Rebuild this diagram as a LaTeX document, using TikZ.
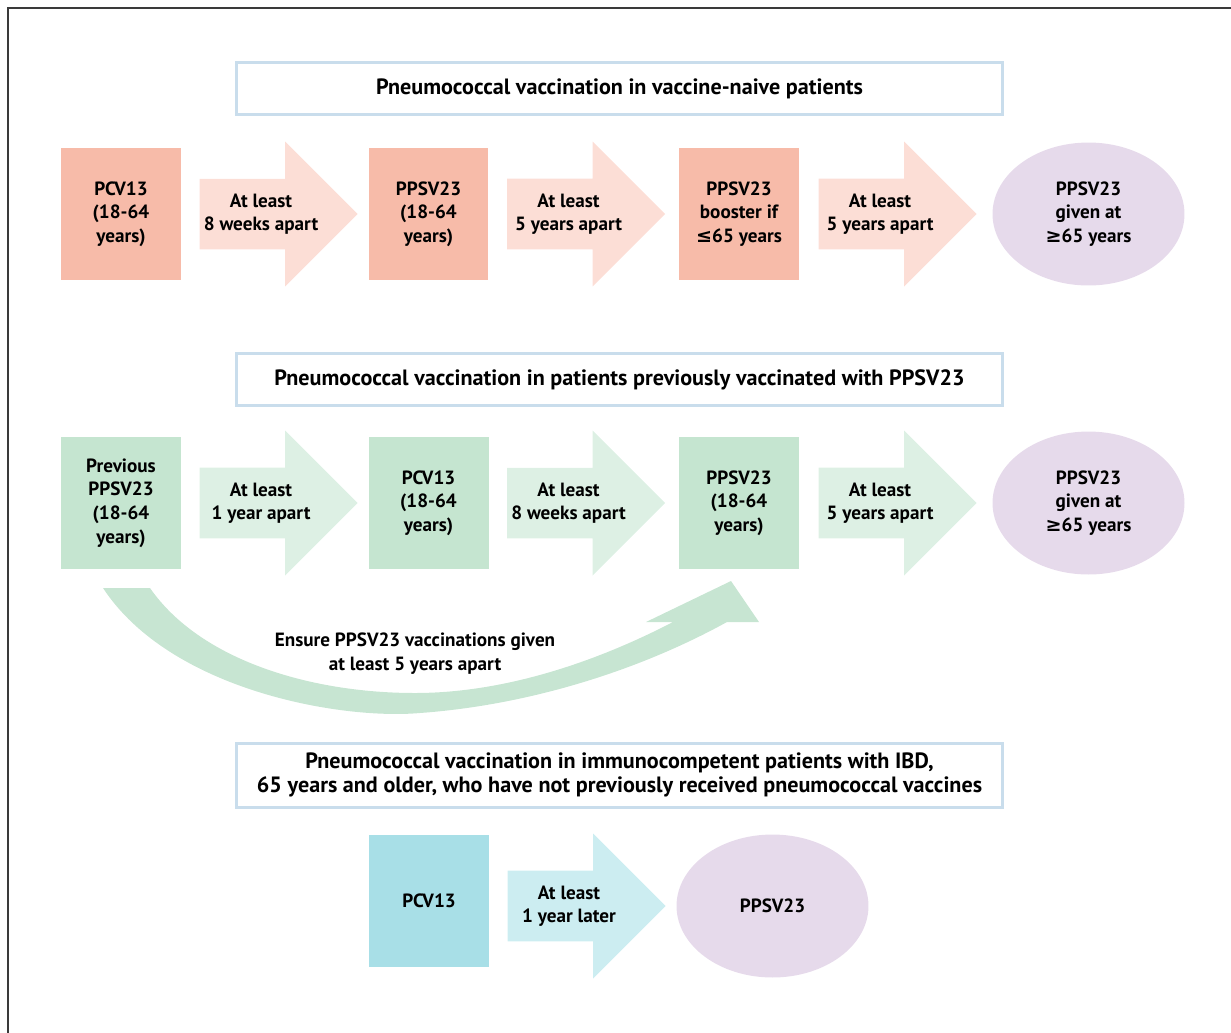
\documentclass[tikz,border=0pt]{standalone}
\usepackage{fontspec}
\setmainfont{PT Sans}
\newfontfamily\relfont{DejaVu Sans}
\usetikzlibrary{shapes.arrows, shapes.geometric, positioning}

\definecolor{salmonbox}{HTML}{F7BBA9}
\definecolor{salmongap}{HTML}{FCDED6}
\definecolor{greenbox}{HTML}{C5E5D0}
\definecolor{greengap}{HTML}{DDF0E4}
\definecolor{cyanbox}{HTML}{A8DFE7}
\definecolor{cyangap}{HTML}{CCEDF1}
\definecolor{lilac}{HTML}{E6DAEB}
\definecolor{titleline}{HTML}{C9DDEC}
\definecolor{bandgreen}{HTML}{C7E5D2}
\definecolor{frameline}{HTML}{3A3A3A}

\begin{document}
\begin{tikzpicture}[
		x=0.02cm, y=-0.02cm,
		every node/.style = {font=\bfseries\fontsize{10.9}{13.4}\selectfont, align=center},
		heading/.style = {rectangle, draw=titleline, line width=1.7pt, minimum width=15.32cm, minimum height=1.04cm, font=\bfseries\fontsize{12.6}{13.6}\selectfont},
		dose/.style = {rectangle, minimum width=2.4cm, minimum height=2.64cm, inner sep=0pt},
		gap/.style = {single arrow, single arrow head extend=0.74cm, minimum height=3.16cm, minimum width=2.9cm, inner xsep=0pt, inner ysep=0.285cm},
		final/.style = {ellipse, fill=lilac, minimum width=3.84cm, minimum height=2.86cm, inner sep=0pt}
		]
		\useasboundingbox (0,0) rectangle (1231,1032);
		\draw[frameline, line width=0.8pt] (8,1040) -- (8,8) -- (1240,8);
		
		% Headings
		\node[heading] (NaiveTitle) at (619.5,88.5) {Pneumococcal vaccination in vaccine-naive patients};
		\node[heading] (PrevTitle) at (619.5,379.5) {Pneumococcal vaccination in patients previously vaccinated with PPSV23};
		\node[heading, minimum height=1.28cm] (OlderTitle) at (619.5,775) {Pneumococcal vaccination in immunocompetent patients with IBD,\\65 years and older, who have not previously received pneumococcal vaccines};
		
		% Vaccine-naive
		\node[dose, fill=salmonbox] (NaivePCV) at (121,214) {PCV13\\(18-64\\years)};
		\node[gap, fill=salmongap, right=0.36cm of NaivePCV] (NaiveGapA) {At least\\8 weeks apart};
		\node[dose, fill=salmonbox, right=0.2cm of NaiveGapA] (NaivePPSV) {PPSV23\\(18-64\\years)};
		\node[gap, fill=salmongap, right=0.36cm of NaivePPSV] (NaiveGapB) {At least\\5 years apart};
		\node[dose, fill=salmonbox, right=0.26cm of NaiveGapB] (NaiveBooster) {PPSV23\\booster if\\{\relfont ≤}65 years};
		\node[gap, fill=salmongap, right=0.38cm of NaiveBooster] (NaiveGapC) {At least\\5 years apart};
		\node[final, right=0.3cm of NaiveGapC] (NaiveOld) {PPSV23\\given at\\{\relfont ≥}65 years};
		
		% Previously vaccinated
		\node[dose, fill=greenbox] (PrevPPSV) at (121,503) {Previous\\PPSV23\\(18-64\\years)};
		\node[gap, fill=greengap, right=0.36cm of PrevPPSV] (PrevGapA) {At least\\1 year apart};
		\node[dose, fill=greenbox, right=0.2cm of PrevGapA] (PrevPCV) {PCV13\\(18-64\\years)};
		\node[gap, fill=greengap, right=0.36cm of PrevPCV] (PrevGapB) {At least\\8 weeks apart};
		\node[dose, fill=greenbox, right=0.26cm of PrevGapB] (PrevBooster) {PPSV23\\(18-64\\years)};
		\node[gap, fill=greengap, right=0.38cm of PrevBooster] (PrevGapC) {At least\\5 years apart};
		\node[final, right=0.3cm of PrevGapC] (PrevOld) {PPSV23\\given at\\{\relfont ≥}65 years};
		
		% Five year band
		\fill[bandgreen] (103,588) .. controls (170,690) and (340,720) .. (420,713)
			.. controls (530,705) and (640,670) .. (727,622) -- (759,622) -- (731,581) -- (646,622) -- (673,622)
			.. controls (590,665) and (500,693) .. (415,693)
			.. controls (310,693) and (200,660) .. (150,588) -- cycle;
		\node (FiveYears) at (415,653.5) {Ensure PPSV23 vaccinations given\\at least 5 years apart};
		
		% Older patients
		\node[dose, fill=cyanbox] (OldPCV) at (429,901) {PCV13};
		\node[gap, fill=cyangap, right=0.36cm of OldPCV, yshift=-0.1cm] (OldGap) {At least\\1 year later};
		\node[final, right=0.2cm of OldGap] (OldPPSV) {PPSV23};
		
	\end{tikzpicture}
\end{document}
